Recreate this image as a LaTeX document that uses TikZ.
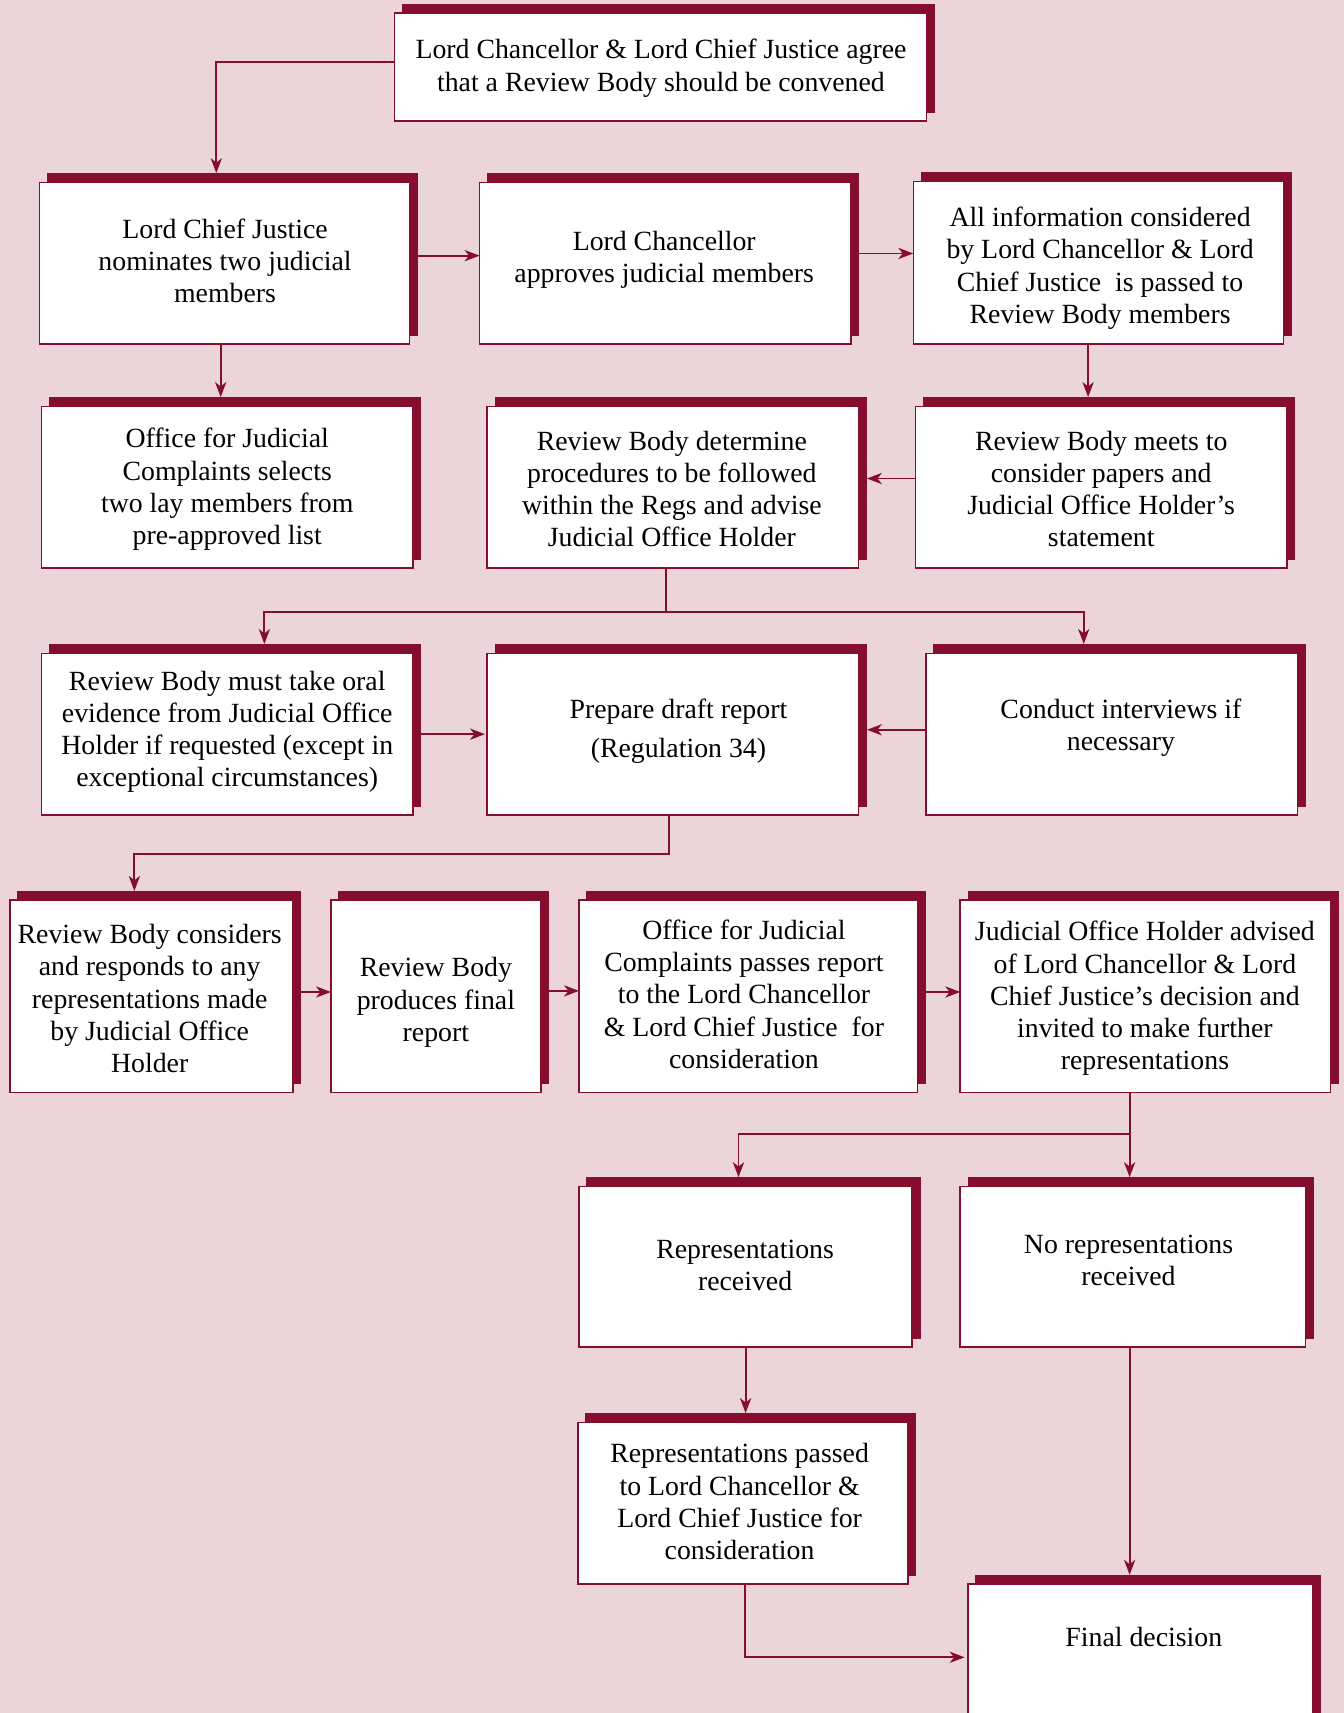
\documentclass[tikz,border=0pt]{standalone}
\usepackage{fontspec}
\setmainfont{Liberation Serif}
\usetikzlibrary{shadows,arrows.meta,calc}
\definecolor{bg}{RGB}{235,213,218}
\definecolor{maroon}{RGB}{133,14,46}
\begin{document}
\begin{tikzpicture}[x=0.54635pt,y=-0.54635pt,
  box/.style={draw=maroon,fill=white,line width=0.8pt,inner sep=0pt,outer sep=0pt,
    copy shadow={shadow xshift=3.8pt,shadow yshift=4.4pt,fill=maroon,draw=maroon,line width=0.3pt}},
  bw/.style={minimum width=#1*0.54635pt},
  bh/.style={minimum height=#1*0.54635pt},
  txt/.style={align=center,font=\fontsize{13.9}{16.1}\selectfont,inner sep=0pt},
  arr/.style={draw=maroon,line width=0.95pt,-{Stealth[length=7.5pt,width=5.6pt,inset=2.2pt]}},
  ln/.style={draw=maroon,line width=0.95pt}]
\useasboundingbox (0,0) rectangle (1230,1568);
\fill[bg] (0,0) rectangle (1230,1568);
\clip (0,0) rectangle (1230,1568);

% boxes
\node[box,bw=487,bh=99]  (A) at (604.5,61.5) {};
\node[box,bw=339,bh=148] (B) at (205.5,241) {};
\node[box,bw=340,bh=148] (C) at (609,241) {};
\node[box,bw=339,bh=149] (D) at (1005.5,240.5) {};
\node[box,bw=340,bh=148] (E) at (208,446) {};
\node[box,bw=340,bh=148] (F) at (616,446) {};
\node[box,bw=340,bh=148] (G) at (1008,446) {};
\node[box,bw=340,bh=148] (H) at (208,672) {};
\node[box,bw=340,bh=148] (I) at (616,672) {};
\node[box,bw=340,bh=148] (J) at (1017.5,672) {};
\node[box,bw=259,bh=176] (K) at (138.5,912) {};
\node[box,bw=192,bh=176] (L) at (399,912) {};
\node[box,bw=310,bh=176] (M) at (685,912) {};
\node[box,bw=339,bh=176] (N) at (1048.5,912) {};
\node[box,bw=305,bh=147] (O) at (682.5,1159.5) {};
\node[box,bw=316,bh=147] (P) at (1037,1159.5) {};
\node[box,bw=302,bh=148] (Q) at (680,1376) {};
\node[box,bw=316,bh=190] (R) at (1044,1545) {};

% texts
\node[txt] (At) at (605,62.5) {Lord Chancellor \& Lord Chief Justice agree\\that a Review Body should be convened};
\node[txt] (Bt) at (206,239) {Lord Chief Justice\\nominates two judicial\\members};
\node[txt] (Ct) at (608,237.5) {Lord Chancellor\\approves judicial members};
\node[txt] (Dt) at (1007,245.5) {All information considered\\by Lord Chancellor \& Lord\\Chief Justice~ is passed to\\Review Body members};
\node[txt] (Et) at (208,448) {Office for Judicial\\Complaints selects\\two lay members from\\pre-approved list};
\node[txt] (Ft) at (615,447.5) {Review Body determine\\procedures to be followed\\within the Regs and advise\\Judicial Office Holder};
\node[txt] (Gt) at (1008,447.5) {Review Body meets to\\consider papers and\\Judicial Office Holder’s\\statement};
\node[txt] (Ht) at (208,670) {Review Body must take oral\\evidence from Judicial Office\\Holder if requested (except in\\exceptional circumstances)};
\node[txt] (It) at (621,669.5) {Prepare draft report\\[3.5pt](Regulation 34)};
\node[txt] (Jt) at (1026,666) {Conduct interviews if\\necessary};
\node[txt] (Kt) at (137,914) {Review Body considers\\and responds to any\\representations made\\by Judicial Office\\Holder};
\node[txt] (Lt) at (399,917.5) {Review Body\\produces final\\report};
\node[txt] (Mt) at (681,910) {Office for Judicial\\Complaints passes report\\to the Lord Chancellor\\\& Lord Chief Justice~ for\\consideration};
\node[txt] (Nt) at (1048,914) {Judicial Office Holder advised\\of Lord Chancellor \& Lord\\Chief Justice’s decision and\\invited to make further\\representations};
\node[txt] (Ot) at (682,1158.5) {Representations\\received};
\node[txt] (Pt) at (1033,1154) {No representations\\received};
\node[txt] (Qt) at (677,1374.5) {Representations passed\\to Lord Chancellor \&\\Lord Chief Justice for\\consideration};
\node[txt] (Rt) at (1047,1498) {Final decision};

% connectors
\draw[arr] ($(A.west)+(0,-4.5)$) -| ($(B.north)+(-7.5,-8.5)$);
\draw[arr] ($(B.east)+(0,-7)$) -- ($(C.west)+(0,-7)$);
\draw[arr] ($(C.east)+(0,-9)$) -- ($(D.west)+(0,-8.5)$);
\draw[arr] ($(B.south)+(-3.5,0)$) -- ($(E.north)+(-6,-8.5)$);
\draw[arr] ($(D.south)+(-9.5,0)$) -- ($(G.north)+(-12,-8.5)$);
\draw[arr] ($(G.west)+(0,-8)$) -- ($(F.east)+(7.5,-8)$);

\coordinate (fork1) at (610,560);
\draw[ln] ($(F.south)+(-6,0)$) -- (fork1);
\draw[arr] (fork1) -| ($(H.north)+(34,-8.5)$);
\draw[arr] (fork1) -| ($(J.north)+(-25.5,-8.5)$);

\draw[arr] (H.east) -- ($(I.west)+(-2,0)$);
\draw[arr] ($(J.west)+(0,-4)$) -- ($(I.east)+(7.5,-4)$);

\coordinate (bend1) at (612,782);
\draw[arr] ($(I.south)+(-4,0)$) -- (bend1) -| ($(K.north)+(-15.5,-8.5)$);

\draw[arr] ($(K.east)+(0,-4)$) -- ($(L.west)+(0,-4)$);
\draw[arr] ($(L.east)+(0,-5)$) -- ($(M.west)+(0,-5)$);
\draw[arr] ($(M.east)+(0,-4)$) -- ($(N.west)+(0,-4)$);

\coordinate (fork2) at (1034,1038);
\draw[ln] ($(N.south)+(-14.5,0)$) -- (fork2);
\draw[arr] (fork2) -- ($(P.north)+(-3,-8.5)$);
\draw[arr] (fork2) -| ($(O.north)+(-6.5,-8.5)$);

\draw[arr] (O.south) -- ($(Q.north)+(2.5,-8.5)$);
\draw[arr] ($(P.south)+(-3,0)$) -- ($(R.north)+(-10,-8.5)$);
\draw[arr] ($(Q.south)+(2,0)$) |- ($(R.west)+(-3,-28)$);
\end{tikzpicture}
\end{document}
